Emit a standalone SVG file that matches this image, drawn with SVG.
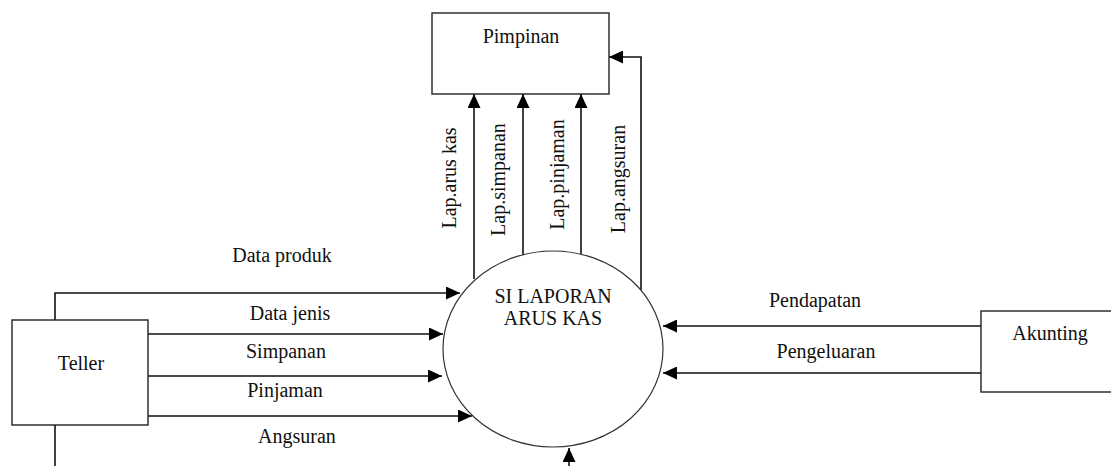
<svg xmlns="http://www.w3.org/2000/svg" width="1111" height="466" viewBox="0 0 1111 466" font-family="'Liberation Serif', 'Times New Roman', 'DejaVu Serif', serif" font-size="20">
<style>
text { font-size: 20px; fill: #111; }
.box { fill: #fff; stroke: #222; stroke-width: 1.4; }
.proc { fill: #fff; stroke: #333; stroke-width: 1.2; }
.flow { fill: none; stroke: #111; stroke-width: 1.6; marker-end: url(#ah); }
.plain { fill: none; stroke: #111; stroke-width: 1.6; }
</style>
<defs>
<marker id="ah" markerUnits="userSpaceOnUse" markerWidth="15" markerHeight="13" refX="14" refY="6.5" orient="auto">
<path d="M0,0 L14,6.5 L0,13 z" fill="#000"/>
</marker>
</defs>
<rect width="1111" height="466" fill="#fff"/>
<g id="connectors">
<polyline class="flow" points="55,320 55,293 460,293"/>
<line class="flow" x1="148" y1="334" x2="443" y2="334"/>
<line class="flow" x1="148" y1="376" x2="442" y2="376"/>
<line class="flow" x1="148" y1="416" x2="472" y2="416"/>
<line class="plain" x1="55" y1="425" x2="55" y2="466"/>
<line class="flow" x1="981" y1="326" x2="663" y2="326"/>
<line class="flow" x1="981" y1="373" x2="663" y2="373"/>
<line class="flow" x1="474" y1="279" x2="474" y2="94"/>
<line class="flow" x1="523" y1="255" x2="523" y2="94"/>
<line class="flow" x1="581" y1="254" x2="581" y2="94"/>
<polyline class="flow" points="641,290 641,57 609,57"/>
<line class="flow" x1="569" y1="466" x2="569" y2="448"/>
<text x="282" y="262" text-anchor="middle" font-family="Liberation Serif, serif">Data produk</text>
<text x="290" y="320" text-anchor="middle">Data jenis</text>
<text x="286" y="358" text-anchor="middle">Simpanan</text>
<text x="285" y="397" text-anchor="middle">Pinjaman</text>
<text x="297" y="443" text-anchor="middle">Angsuran</text>
<text x="815" y="307" text-anchor="middle">Pendapatan</text>
<text x="826" y="358" text-anchor="middle">Pengeluaran</text>
<text transform="translate(456,178) rotate(-90)" text-anchor="middle">Lap.arus kas</text>
<text transform="translate(505,179.5) rotate(-90)" text-anchor="middle">Lap.simpanan</text>
<text transform="translate(564,174.5) rotate(-90)" text-anchor="middle">Lap.pinjaman</text>
<text transform="translate(625,179) rotate(-90)" text-anchor="middle">Lap.angsuran</text>
</g>
<g id="pimpinan">
<rect class="box" x="432" y="13" width="177" height="81"/>
<text x="521" y="43" text-anchor="middle">Pimpinan</text>
</g>
<g id="teller">
<rect class="box" x="12" y="320" width="136" height="105"/>
<text x="81" y="370" text-anchor="middle">Teller</text>
</g>
<g id="akunting">
<rect class="box" x="981" y="311" width="140" height="81"/>
<text x="1050" y="340" text-anchor="middle">Akunting</text>
</g>
<g id="si-laporan">
<ellipse class="proc" cx="553" cy="349" rx="110" ry="98"/>
<text x="553" y="303" text-anchor="middle">SI LAPORAN</text>
<text x="553" y="325" text-anchor="middle">ARUS KAS</text>
</g>
</svg>
